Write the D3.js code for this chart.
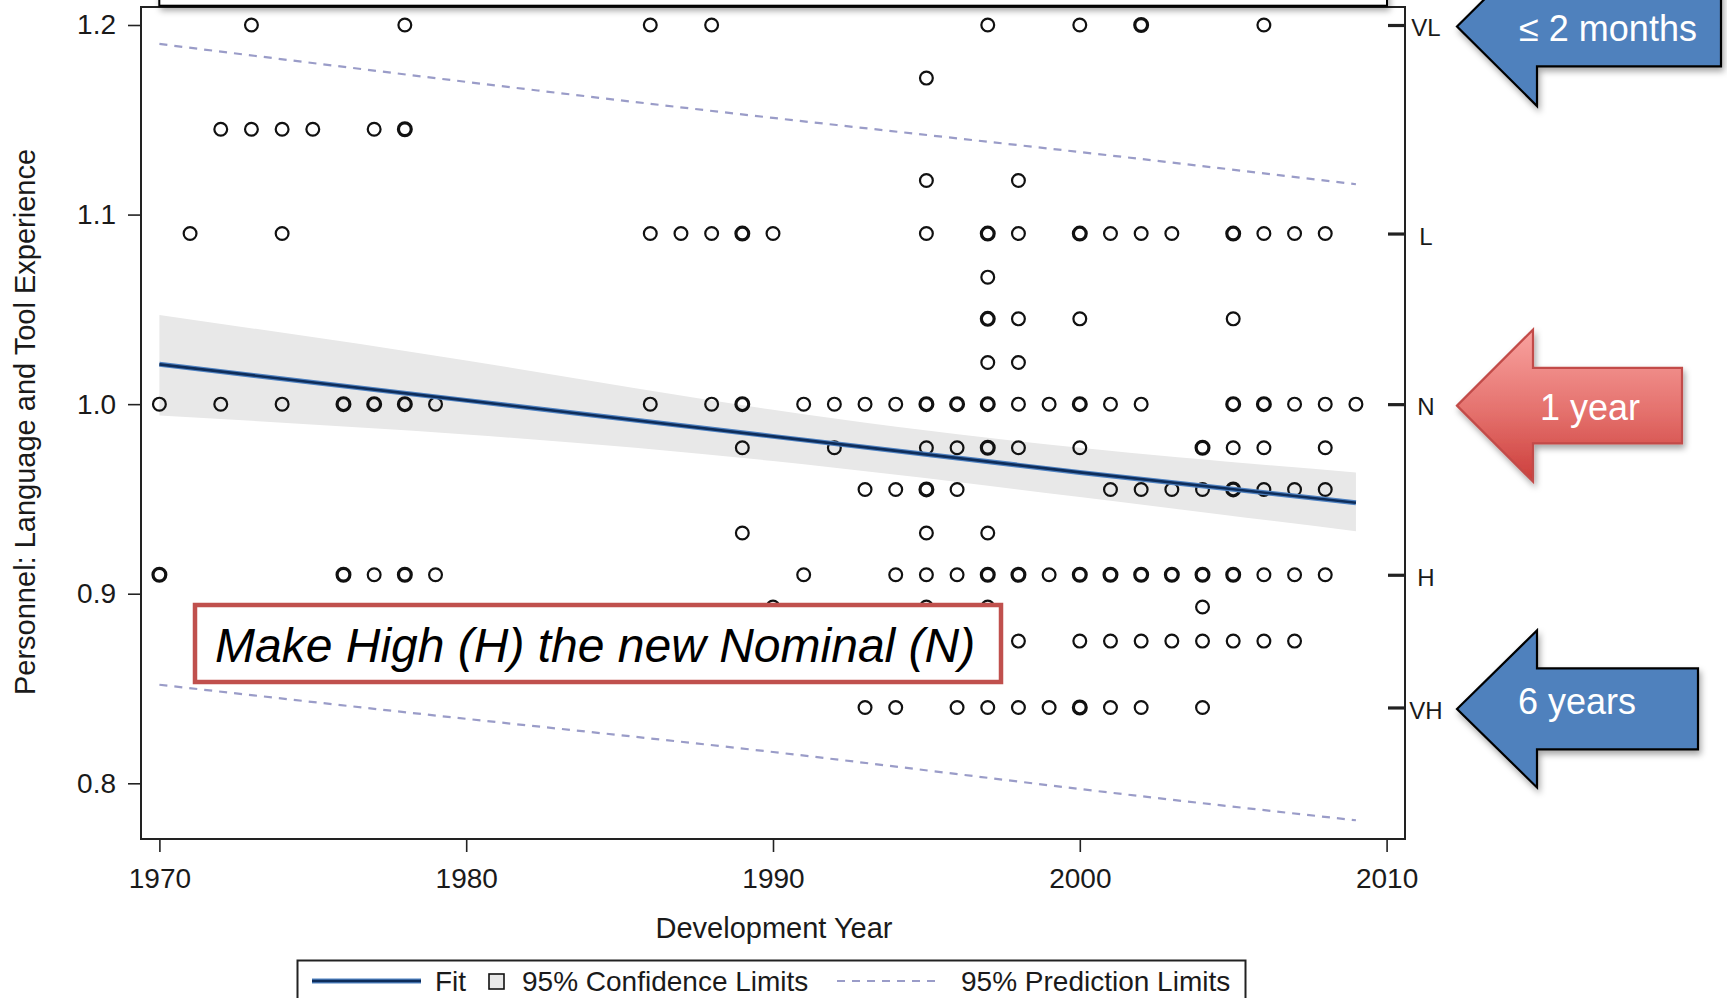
<!DOCTYPE html>
<html>
<head>
<meta charset="utf-8">
<script src="https://cdn.jsdelivr.net/npm/d3@7/dist/d3.min.js"></script>
<style>
  body { margin: 0; background: #fff; }
  svg { display: block; font-family: "Liberation Sans", Arial, sans-serif; }
</style>
</head>
<body>
<script>
//** Rating levels (y values) and the development years found on each level.
//** A year listed twice is two projects sitting on the same spot.
var ratingLevels = [1.2, 1.172, 1.145, 1.118, 1.09, 1.067, 1.045, 1.022, 1.0,
                    0.977, 0.955, 0.932, 0.91, 0.893, 0.875, 0.84];
var yearsByLevel = [
  [1973, 1978, 1986, 1988, 1997, 2000, 2002, 2002, 2006],
  [1995],
  [1972, 1973, 1974, 1975, 1977, 1978, 1978],
  [1995, 1998],
  [1971, 1974, 1986, 1987, 1988, 1989, 1989, 1990, 1995, 1997, 1997, 1998, 2000, 2000,
   2001, 2002, 2003, 2005, 2005, 2006, 2007, 2008],
  [1997],
  [1997, 1997, 1998, 2000, 2005],
  [1997, 1998],
  [1970, 1972, 1974, 1976, 1976, 1977, 1977, 1978, 1978, 1979, 1986, 1988, 1989, 1989,
   1991, 1992, 1993, 1994, 1995, 1995, 1996, 1996, 1997, 1997, 1998, 1999, 2000, 2000,
   2001, 2002, 2005, 2005, 2006, 2006, 2007, 2008, 2009],
  [1989, 1992, 1995, 1996, 1997, 1997, 1998, 2000, 2004, 2004, 2005, 2006, 2008],
  [1993, 1994, 1995, 1995, 1996, 2001, 2002, 2003, 2004, 2005, 2005, 2006, 2007, 2008],
  [1989, 1995, 1997],
  [1970, 1970, 1976, 1976, 1977, 1978, 1978, 1979, 1991, 1994, 1995, 1996, 1997, 1997,
   1998, 1998, 1999, 2000, 2000, 2001, 2001, 2002, 2002, 2003, 2003, 2004, 2004, 2005,
   2005, 2006, 2007, 2008],
  [1990, 1995, 1997, 2004],
  [1998, 2000, 2001, 2002, 2003, 2004, 2005, 2006, 2007],
  [1993, 1994, 1996, 1997, 1998, 1999, 2000, 2000, 2001, 2002, 2004]
];

//** Fit, confidence and prediction limits read at a few years.
var limitYears = [1970, 1980, 1990, 2000, 2009];
var fitValues  = [1.021, 1.002, 0.983, 0.964, 0.948];
var confLower  = [0.994, 0.984, 0.970, 0.951, 0.933];
var confUpper  = [1.047, 1.023, 0.997, 0.977, 0.964];
var predLower  = [0.852, 0.834, 0.8165, 0.797, 0.7805];
var predUpper  = [1.190, 1.170, 1.151, 1.133, 1.116];

//** Axis ticks and labels
var xTicks = [1970, 1980, 1990, 2000, 2010];
var yTicks = [0.8, 0.9, 1.0, 1.1, 1.2];
var ratingTicks  = [1.2, 1.09, 1.0, 0.91, 0.84];
var ratingLabels = ['VL', 'L', 'N', 'H', 'VH'];
var legendLabels = ['Fit', '95% Confidence Limits', '95% Prediction Limits'];
var arrowLabels  = ['\u2264 2 months', '1 year', '6 years'];
var arrowValues  = [1.2, 1.0, 0.84];
var noteText = 'Make High (H) the new Nominal (N)';

var W = 1727, H = 998;
var frame = {left: 141, right: 1405, top: 7, bottom: 839};
var textColor = '#1a1a1a';

var svg = d3.select('body').append('svg')
    .attr('width', W)
    .attr('height', H);

var defs = svg.append('defs');
var shadow = defs.append('filter').attr('id', 'shadow')
    .attr('x', '-10%').attr('y', '-10%').attr('width', '130%').attr('height', '160%');
shadow.append('feDropShadow')
    .attr('dx', 2).attr('dy', 4).attr('stdDeviation', 3)
    .attr('flood-color', '#000').attr('flood-opacity', 0.35);
var redGrad = defs.append('linearGradient').attr('id', 'redGrad')
    .attr('x1', 0).attr('y1', 0).attr('x2', 0).attr('y2', 1);
redGrad.append('stop').attr('offset', '0%').attr('stop-color', '#f9a3a0');
redGrad.append('stop').attr('offset', '55%').attr('stop-color', '#e4706c');
redGrad.append('stop').attr('offset', '100%').attr('stop-color', '#cc3e3b');

var x = d3.scaleLinear().domain([1970, 2010]).range([159.4, 1386.6]);
var y = d3.scaleLinear().domain([0.8, 1.2]).range([783.3, 25]);

var plot = svg.append('g');

// ** Confidence band
var band = limitYears.map(function(yr, i){
  return {year: yr, lo: confLower[i], hi: confUpper[i]};
});
plot.append('path')
    .datum(band)
    .attr('fill', '#e8e8e8')
    .attr('d', d3.area()
      .curve(d3.curveNatural)
      .x(function(d){ return x(d.year); })
      .y0(function(d){ return y(d.lo); })
      .y1(function(d){ return y(d.hi); }));

// ** Points, thicker ring where two projects coincide
var points = [];
yearsByLevel.forEach(function(years, i){
  years.forEach(function(yr){
    points.push({year: yr, level: ratingLevels[i]});
  });
});
var counts = d3.rollups(points,
  function(v){ return v.length; },
  function(d){ return d.year + '|' + d.level; });

plot.selectAll('circle.pt')
    .data(counts)
    .enter().append('circle')
    .attr('class', 'pt')
    .attr('cx', function(d){ return x(+d[0].split('|')[0]); })
    .attr('cy', function(d){ return y(+d[0].split('|')[1]); })
    .attr('r', 6.4)
    .attr('fill', 'none')
    .attr('stroke', '#111')
    .attr('stroke-width', function(d){ return d[1] > 1 ? 3.2 : 2.2; });

// ** Fit line
var fitLine = d3.line()
    .x(function(d, i){ return x(limitYears[i]); })
    .y(function(d){ return y(d); });
plot.append('path').datum(fitValues)
    .attr('fill', 'none').attr('stroke', '#4f82c2').attr('stroke-width', 5)
    .attr('d', fitLine);
plot.append('path').datum(fitValues)
    .attr('fill', 'none').attr('stroke', '#0e2d5a').attr('stroke-width', 2.6)
    .attr('d', fitLine);

// ** Prediction limits
var predLine = d3.line()
    .curve(d3.curveNatural)
    .x(function(d, i){ return x(limitYears[i]); })
    .y(function(d){ return y(d); });
[predUpper, predLower].forEach(function(series){
  plot.append('path').datum(series)
      .attr('fill', 'none')
      .attr('stroke', '#9a9cc8')
      .attr('stroke-width', 2.2)
      .attr('stroke-dasharray', '8,7')
      .attr('d', predLine);
});

// ** Frame
svg.append('rect')
    .attr('x', frame.left).attr('y', frame.top)
    .attr('width', frame.right - frame.left)
    .attr('height', frame.bottom - frame.top)
    .attr('fill', 'none').attr('stroke', '#222').attr('stroke-width', 2);

// ** Axes
var styleAxis = function(g){
  g.select('.domain').remove();
  g.selectAll('line').attr('stroke', '#222').attr('stroke-width', 1.6);
  g.selectAll('text')
      .attr('fill', textColor)
      .style('font-size', '28px')
      .style('font-family', '"Liberation Sans", Arial, sans-serif');
};

svg.append('g')
    .attr('transform', 'translate(0,' + frame.bottom + ')')
    .call(d3.axisBottom(x).tickValues(xTicks).tickSize(13).tickPadding(16)
      .tickFormat(d3.format('d')))
    .call(styleAxis);

svg.append('g')
    .attr('transform', 'translate(' + frame.left + ',0)')
    .call(d3.axisLeft(y).tickValues(yTicks).tickSize(13).tickPadding(12)
      .tickFormat(d3.format('.1f')))
    .call(styleAxis);

var rightAxis = svg.append('g')
    .attr('transform', 'translate(' + frame.right + ',0)')
    .call(d3.axisRight(y).tickValues(ratingTicks).tickSize(-17).tickPadding(21)
      .tickFormat(function(d, i){ return ratingLabels[i]; }))
    .call(styleAxis);
rightAxis.selectAll('line').attr('stroke-width', 3.2);
rightAxis.selectAll('text')
    .style('font-size', '24px')
    .attr('text-anchor', 'middle')
    .attr('dy', '0.45em');

// ** Axis titles
svg.append('text')
    .attr('x', 774).attr('y', 938)
    .attr('text-anchor', 'middle')
    .attr('fill', textColor)
    .style('font-size', '29px')
    .text('Development Year');

svg.append('text')
    .attr('transform', 'translate(35,422) rotate(-90)')
    .attr('text-anchor', 'middle')
    .attr('fill', textColor)
    .style('font-size', '29px')
    .text('Personnel: Language and Tool Experience');

// ** Legend
var legend = svg.append('g');
legend.append('rect')
    .attr('x', 297.5).attr('y', 960.5).attr('width', 948).attr('height', 60)
    .attr('fill', '#fff').attr('stroke', '#222').attr('stroke-width', 2);
legend.append('line')
    .attr('x1', 312).attr('x2', 421).attr('y1', 981).attr('y2', 981)
    .attr('stroke', '#4f82c2').attr('stroke-width', 5);
legend.append('line')
    .attr('x1', 312).attr('x2', 421).attr('y1', 981).attr('y2', 981)
    .attr('stroke', '#0e2d5a').attr('stroke-width', 2.6);
legend.append('rect')
    .attr('x', 489).attr('y', 974).attr('width', 15).attr('height', 15)
    .attr('fill', '#e8e8e8').attr('stroke', '#111').attr('stroke-width', 1.6);
legend.append('line')
    .attr('x1', 837).attr('x2', 939).attr('y1', 981).attr('y2', 981)
    .attr('stroke', '#9a9cc8').attr('stroke-width', 2.2)
    .attr('stroke-dasharray', '8,7');
legend.selectAll('text.lab')
    .data(legendLabels)
    .enter().append('text')
    .attr('class', 'lab')
    .attr('x', function(d, i){ return [435, 522, 961][i]; })
    .attr('y', 991)
    .attr('fill', textColor)
    .style('font-size', '28px')
    .text(function(d){ return d; });

// ** Box cut off at the top of the slide
svg.append('rect')
    .attr('x', 159.3).attr('y', -40).attr('width', 1227.7).attr('height', 45.7)
    .attr('fill', '#fff').attr('stroke', '#000').attr('stroke-width', 2)
    .attr('filter', 'url(#shadow)');

// ** Note box
svg.append('rect')
    .attr('x', 195).attr('y', 605).attr('width', 806).attr('height', 77)
    .attr('fill', '#fff').attr('stroke', '#c0504d').attr('stroke-width', 4.5);
svg.append('text')
    .attr('x', 215).attr('y', 662)
    .attr('fill', '#000')
    .style('font-size', '48px')
    .style('font-style', 'italic')
    .text(noteText);

// ** Arrows pointing at the rating levels
var arrowShapes = [
  {headBack: 1537, right: 1721, headHalf: 79.5, bodyHalf: 39.8, fill: '#4f81bd', stroke: '#000', tx: 1608, ty: 14.5},
  {headBack: 1533, right: 1682, headHalf: 76, bodyHalf: 37.8, fill: 'url(#redGrad)', stroke: '#c24b48', tx: 1590, ty: 14.5},
  {headBack: 1537, right: 1698, headHalf: 78.5, bodyHalf: 40.5, fill: '#4f81bd', stroke: '#000', tx: 1577, ty: 5}
];
var tipX = 1457;

var arrows = svg.selectAll('g.arrow')
    .data(arrowLabels)
    .enter().append('g')
    .attr('class', 'arrow');

arrows.append('path')
    .attr('d', function(d, i){
      var s = arrowShapes[i], cy = y(arrowValues[i]) + 1.5;
      return 'M' + tipX + ',' + cy +
        'L' + s.headBack + ',' + (cy - s.headHalf) +
        'L' + s.headBack + ',' + (cy - s.bodyHalf) +
        'L' + s.right + ',' + (cy - s.bodyHalf) +
        'L' + s.right + ',' + (cy + s.bodyHalf) +
        'L' + s.headBack + ',' + (cy + s.bodyHalf) +
        'L' + s.headBack + ',' + (cy + s.headHalf) + 'Z';
    })
    .attr('fill', function(d, i){ return arrowShapes[i].fill; })
    .attr('stroke', function(d, i){ return arrowShapes[i].stroke; })
    .attr('stroke-width', 2.2)
    .attr('stroke-linejoin', 'miter')
    .attr('filter', 'url(#shadow)');

arrows.append('text')
    .attr('x', function(d, i){ return arrowShapes[i].tx; })
    .attr('y', function(d, i){ return y(arrowValues[i]) + 1.5 + arrowShapes[i].ty; })
    .attr('text-anchor', 'middle')
    .attr('fill', '#fff')
    .style('font-size', '36px')
    .text(function(d){ return d; });
</script>
</body>
</html>
